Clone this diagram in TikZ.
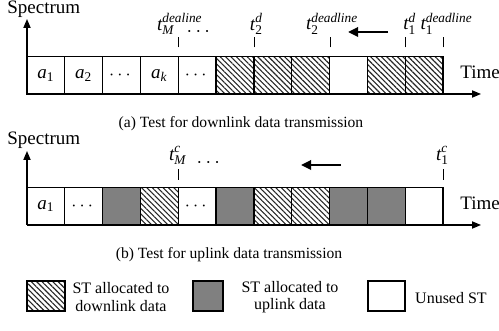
\documentclass[tikz,border=0pt]{standalone}
\usepackage{amsmath}
\usepackage{fontspec}
\setmainfont{Liberation Serif}
\usetikzlibrary{patterns.meta,arrows.meta}

\tikzset{
  slot/.style={draw, line width=0.6pt, minimum width=18.9pt, minimum height=18.6pt,
    inner sep=0pt, font=\fontsize{9.5}{10}\selectfont},
  blank/.style={slot, fill=white},
  down/.style={slot, pattern={Lines[angle=-45,distance=1.9pt,line width=0.55pt]},
    pattern color=black!85},
  up/.style={slot, fill=black!50},
  axis/.style={line width=0.6pt, -{Triangle[length=4.5pt,width=3.6pt]}},
  tick/.style={line width=0.6pt},
  shiftarrow/.style={line width=1.3pt, -{Triangle[length=5pt,width=4.6pt]}},
  tlabel/.style={inner sep=0pt, anchor=south, font=\fontsize{9.5}{10}\selectfont},
  axlabel/.style={inner sep=0pt, font=\fontsize{9.5}{11}\selectfont},
  caption/.style={inner sep=0pt, font=\fontsize{7.8}{9}\selectfont},
  legtext/.style={inner sep=0pt, align=center, font=\fontsize{8}{8.6}\selectfont}
}

\begin{document}
\begin{tikzpicture}[x=0.5pt, y=-0.5pt]
  \useasboundingbox (0,0) rectangle (499,331);

  % ---------- (a) downlink test ----------
  \coordinate (o1) at (27,94);
  \coordinate (ytip1) at (27,19);
  \coordinate (xtip1) at (481,94);
  \foreach \i/\s/\t in {0/blank/{$\textit{a}_{\text{1}}$},
                        1/blank/{$\textit{a}_{\text{2}}$},
                        2/blank/{$\cdots$},
                        3/blank/{$\textit{a}_{\textit{k}}$},
                        4/blank/{$\cdots$},
                        5/down/{}, 6/down/{}, 7/down/{},
                        8/blank/{},
                        9/down/{}, 10/down/{}}
    \node[\s] (u\i) at ({27+37.82*(\i+0.5)},75.5) {\t};
  \draw[axis] (o1) -- (ytip1);
  \draw[axis] (o1) -- (xtip1);
  \node[axlabel, anchor=west] (spec1) at (7,9) {Spectrum};
  \node[axlabel, anchor=west] (time1) at (460,72) {Time};

  \foreach \n/\lab/\dx in {3/{$\textit{t}_{\textit{M}}^{\textit{dealine}}$}/1,
                       5/{$\textit{t}_{\text{2}}^{\textit{d}}$}/2,
                       7/{$\textit{t}_{\text{2}}^{\textit{deadline}}$}/2,
                       9/{$\textit{t}_{\text{1}}^{\textit{d}}$}/4,
                       10/{$\textit{t}_{\text{1}}^{\textit{deadline}}$}/3}{
    \draw[tick] ([yshift=4.5pt]u\n.north east) coordinate (ta\n) -- ++(0,-10);
    \node[tlabel] (la\n) at ([xshift=\dx*0.5pt, yshift=10.8pt]u\n.north east) {\lab};
  }
  \node[inner sep=0pt] (dots1) at (200,32) {$\cdots$};
  \coordinate (sa1) at (388,32);
  \coordinate (ea1) at (348,32);
  \draw[shiftarrow] (sa1) -- (ea1);

  \node[caption] (capa) at (241,124) {(a) Test for downlink data transmission};

  % ---------- (b) uplink test ----------
  \coordinate (o2) at (27,225);
  \coordinate (ytip2) at (27,151);
  \coordinate (xtip2) at (481,225);
  \foreach \i/\s/\t in {0/blank/{$\textit{a}_{\text{1}}$},
                        1/blank/{$\cdots$},
                        2/up/{}, 3/down/{},
                        4/blank/{$\cdots$},
                        5/up/{}, 6/down/{}, 7/down/{},
                        8/up/{}, 9/up/{},
                        10/blank/{}}
    \node[\s] (d\i) at ({27+37.82*(\i+0.5)},206) {\t};
  \draw[axis] (o2) -- (ytip2);
  \draw[axis] (o2) -- (xtip2);
  \node[axlabel, anchor=west] (spec2) at (7,140) {Spectrum};
  \node[axlabel, anchor=west] (time2) at (460,203) {Time};

  \foreach \n/\lab/\dx in {3/{$\textit{t}_{\textit{M}}^{\textit{c}}$}/-1,
                       10/{$\textit{t}_{\text{1}}^{\textit{c}}$}/-1}{
    \draw[tick] ([yshift=3.5pt]d\n.north east) coordinate (tb\n) -- ++(0,-11);
    \node[tlabel] (lb\n) at ([xshift=\dx*0.5pt, yshift=10.8pt]d\n.north east) {\lab};
  }
  \node[inner sep=0pt] (dots2) at (210,163) {$\cdots$};
  \coordinate (sa2) at (341,165);
  \coordinate (ea2) at (301,165);
  \draw[shiftarrow] (sa2) -- (ea2);

  \node[caption] (capb) at (229,255) {(b) Test for uplink data transmission};

  % ---------- legend ----------
  \node[down, minimum width=19pt, minimum height=15pt] (kd) at (46,296) {};
  \node[legtext] (kdt) at (121,297) {ST allocated to\\downlink data};
  \node[up, minimum width=15pt, minimum height=15pt] (ku) at (208,296) {};
  \node[legtext] (kut) at (290,297) {ST allocated to\\uplink data};
  \node[blank, minimum width=18.5pt, minimum height=15pt] (kb) at (386.5,296) {};
  \node[legtext] (kbt) at (451,298) {Unused ST};
\end{tikzpicture}
\end{document}
